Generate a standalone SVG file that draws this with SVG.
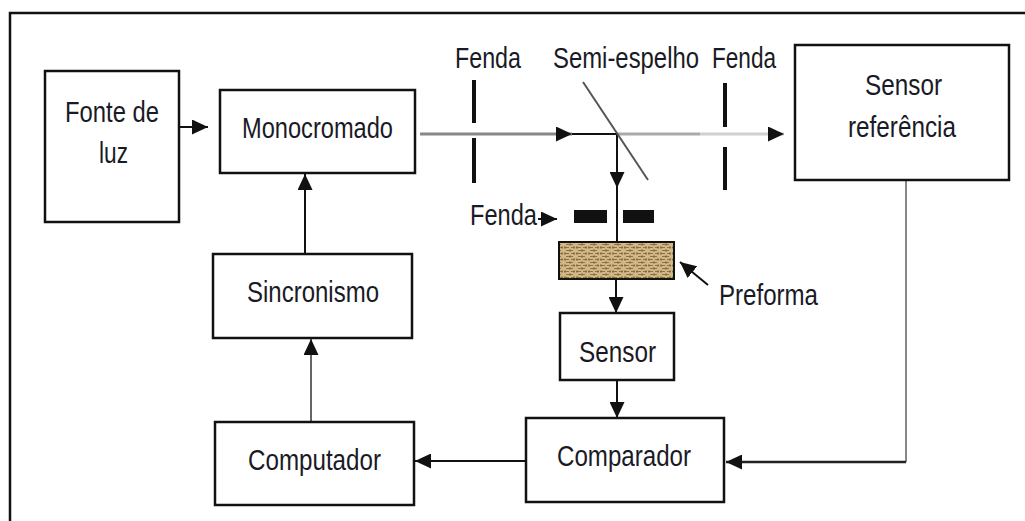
<svg xmlns="http://www.w3.org/2000/svg" width="1025" height="521" viewBox="0 0 1025 521">
<style>
.box{fill:#fff;stroke:#111;stroke-width:2.5}
.t{font-family:"Liberation Sans",Arial,sans-serif;font-size:30px;fill:#1a1a26}
.ln{fill:none;stroke:#111;stroke-width:2}
.gl{fill:none;stroke:#888;stroke-width:2}
.slit{stroke:#111;stroke-width:4;fill:none}
</style>
<defs>
<marker id="arr" markerUnits="userSpaceOnUse" markerWidth="16" markerHeight="15" refX="16" refY="7.5" orient="auto">
<path d="M0,0 L16,7.5 L0,15 z" fill="#111"/>
</marker>
<pattern id="tex" patternUnits="userSpaceOnUse" width="12" height="6">
<rect width="12" height="6" fill="#d2b886"/>
<path d="M0,1.5 H5 M7,1.5 H11 M2,4.5 H9 M1,0 V3 M6,3 V6 M10,0 V3" stroke="#7a6238" stroke-width="0.8"/>
</pattern>
</defs>
<path d="M10,521 V13 H1025" fill="none" stroke="#111" stroke-width="2.5"/>
<g id="connectors">
<line class="ln" x1="180" y1="127" x2="208" y2="127" marker-end="url(#arr)"/>
<line x1="420" y1="134" x2="572" y2="134" stroke="#888" stroke-width="3" marker-end="url(#arr)"/>
<line class="ln" x1="572" y1="134" x2="617" y2="134"/>
<line x1="617" y1="134" x2="700" y2="134" stroke="#aaa" stroke-width="3"/>
<line x1="700" y1="134" x2="784" y2="134" stroke="#d0d0d0" stroke-width="3" marker-end="url(#arr)"/>
<line class="ln" x1="617" y1="134" x2="617" y2="188" marker-end="url(#arr)"/>
<line class="ln" x1="617" y1="186" x2="617" y2="242"/>
<line class="ln" x1="616" y1="279" x2="616" y2="313" marker-end="url(#arr)"/>
<line class="ln" x1="617" y1="380" x2="617" y2="418" marker-end="url(#arr)"/>
<line class="ln" x1="526" y1="461" x2="415" y2="461" marker-end="url(#arr)"/>
<line class="ln" x1="305" y1="254" x2="305" y2="174" marker-end="url(#arr)"/>
<line x1="311" y1="422" x2="311" y2="339" stroke="#333" stroke-width="1.5" marker-end="url(#arr)"/>
<line class="gl" x1="906" y1="180" x2="906" y2="462"/>
<line x1="906" y1="462" x2="726" y2="462" stroke="#222" stroke-width="2.5" marker-end="url(#arr)"/>
<line class="ln" x1="538" y1="219" x2="557" y2="219" marker-end="url(#arr)"/>
<line class="ln" x1="708" y1="285" x2="680" y2="262" marker-end="url(#arr)"/>
</g>
<g id="fenda1">
<path class="slit" d="M474,80 V123 M474,138 V183"/>
<text class="t" x="455" y="68" textLength="66" lengthAdjust="spacingAndGlyphs">Fenda</text>
</g>
<g id="semi-espelho">
<line x1="583" y1="82" x2="648" y2="180" stroke="#555" stroke-width="2"/>
<text class="t" transform="translate(553,68) scale(0.798,1)" x="0" y="0" textLength="183" lengthAdjust="spacingAndGlyphs">Semi-espelho</text>
</g>
<g id="fenda2">
<path class="slit" d="M725,83 V127 M725,147 V190"/>
<text class="t" transform="translate(712,68) scale(0.753,1)" x="0" y="0" textLength="85" lengthAdjust="spacingAndGlyphs">Fenda</text>
</g>
<g id="fenda3">
<rect x="574" y="210" width="33" height="13" fill="#111"/>
<rect x="623" y="210" width="31" height="13" fill="#111"/>
<text class="t" x="470" y="225" textLength="67" lengthAdjust="spacingAndGlyphs">Fenda</text>
</g>
<g id="preforma">
<rect x="559" y="242" width="115" height="37" fill="url(#tex)" stroke="#111" stroke-width="2"/>
<text class="t" x="719" y="305" textLength="99" lengthAdjust="spacingAndGlyphs">Preforma</text>
</g>
<g id="fonte-de-luz">
<rect class="box" x="45" y="71" width="134" height="151"/>
<text class="t" x="65" y="122" textLength="94" lengthAdjust="spacingAndGlyphs">Fonte de</text>
<text class="t" x="99" y="163" textLength="29" lengthAdjust="spacingAndGlyphs">luz</text>
</g>
<g id="monocromado">
<rect class="box" x="220" y="90" width="195" height="83"/>
<text class="t" x="242" y="138" textLength="151" lengthAdjust="spacingAndGlyphs">Monocromado</text>
</g>
<g id="sincronismo">
<rect class="box" x="213" y="254" width="199" height="84"/>
<text class="t" x="247" y="302" textLength="132" lengthAdjust="spacingAndGlyphs">Sincronismo</text>
</g>
<g id="computador">
<rect class="box" x="215" y="422" width="199" height="83"/>
<text class="t" x="248" y="470" textLength="133" lengthAdjust="spacingAndGlyphs">Computador</text>
</g>
<g id="sensor-referencia">
<rect class="box" x="795" y="45" width="214" height="135"/>
<text class="t" x="865" y="95" textLength="77" lengthAdjust="spacingAndGlyphs">Sensor</text>
<text class="t" x="848" y="137" textLength="108" lengthAdjust="spacingAndGlyphs">referência</text>
</g>
<g id="sensor">
<rect class="box" x="560" y="313" width="114" height="67"/>
<text class="t" x="579" y="362" textLength="77" lengthAdjust="spacingAndGlyphs">Sensor</text>
</g>
<g id="comparador">
<rect class="box" x="526" y="418" width="198" height="84"/>
<text class="t" x="557" y="466" textLength="134" lengthAdjust="spacingAndGlyphs">Comparador</text>
</g>
</svg>
